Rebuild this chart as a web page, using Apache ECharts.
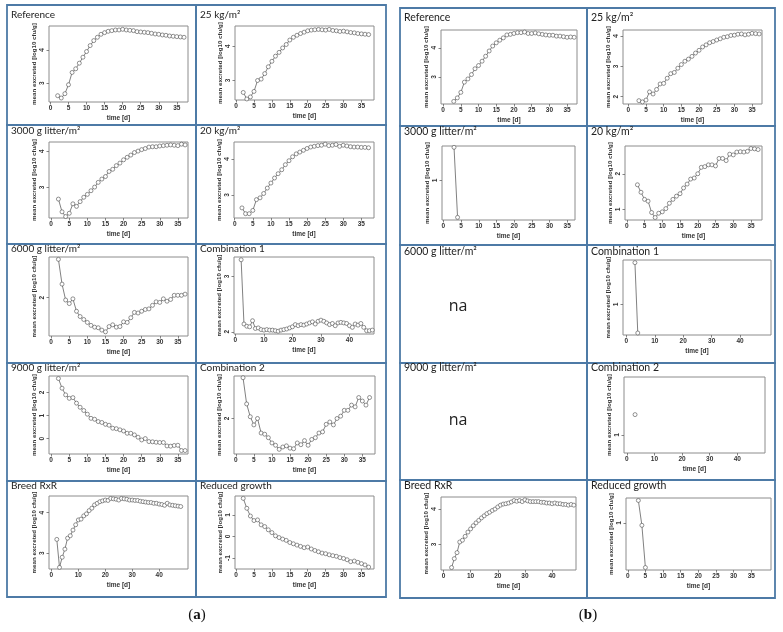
<!DOCTYPE html>
<html><head><meta charset="utf-8">
<script src="https://cdn.jsdelivr.net/npm/echarts@6/dist/echarts.min.js"></script>
<style>html,body{margin:0;padding:0;background:#fff}#c{width:783px;height:632px}</style>
</head><body><div id="c"></div><script>
// ---------- data ----------
const days2to37 = [2,3,4,5,6,7,8,9,10,11,12,13,14,15,16,17,18,19,20,21,22,23,24,25,26,27,28,29,30,31,32,33,34,35,36,37];
const days2to48 = [2,3,4,5,6,7,8,9,10,11,12,13,14,15,16,17,18,19,20,21,22,23,24,25,26,27,28,29,30,31,32,33,34,35,36,37,38,39,40,41,42,43,44,45,46,47,48];
const days3to37 = [3,4,5,6,7,8,9,10,11,12,13,14,15,16,17,18,19,20,21,22,23,24,25,26,27,28,29,30,31,32,33,34,35,36,37];
const days3to48 = [3,4,5,6,7,8,9,10,11,12,13,14,15,16,17,18,19,20,21,22,23,24,25,26,27,28,29,30,31,32,33,34,35,36,37,38,39,40,41,42,43,44,45,46,47,48];
const days3to4 = [3,4];
const days3 = [3];
const days3to5 = [3,4,5];

const referenceA = [2.62,2.55,2.68,2.95,3.32,3.43,3.60,3.78,3.95,4.13,4.28,4.38,4.47,4.52,4.56,4.58,4.60,4.60,4.62,4.60,4.59,4.58,4.55,4.54,4.53,4.52,4.50,4.48,4.47,4.45,4.44,4.42,4.41,4.40,4.39,4.38];
const kg25A = [2.65,2.46,2.52,2.68,3.00,3.04,3.20,3.40,3.56,3.71,3.82,3.95,4.05,4.18,4.26,4.32,4.37,4.41,4.45,4.47,4.48,4.49,4.48,4.47,4.49,4.46,4.45,4.43,4.44,4.42,4.40,4.39,4.37,4.36,4.35,4.34];
const litter3000A = [2.68,2.33,2.20,2.29,2.55,2.48,2.61,2.73,2.81,2.91,3.01,3.14,3.23,3.30,3.44,3.50,3.60,3.67,3.76,3.83,3.89,3.96,4.00,4.04,4.07,4.11,4.12,4.12,4.14,4.15,4.16,4.17,4.16,4.15,4.19,4.17];
const kg20A = [2.64,2.48,2.48,2.57,2.87,2.92,3.04,3.19,3.33,3.47,3.59,3.70,3.84,3.95,4.06,4.14,4.19,4.24,4.29,4.33,4.35,4.37,4.38,4.41,4.37,4.38,4.40,4.35,4.38,4.36,4.34,4.33,4.33,4.32,4.32,4.31];
const litter6000A = [2.65,2.23,1.96,1.90,1.98,1.77,1.68,1.63,1.58,1.53,1.50,1.49,1.45,1.42,1.51,1.54,1.50,1.51,1.59,1.58,1.66,1.75,1.74,1.77,1.80,1.81,1.87,1.93,1.92,1.98,1.94,1.97,2.04,2.04,2.04,2.06];
const combination1A = [3.30,2.14,2.10,2.09,2.20,2.06,2.07,2.04,2.03,2.04,2.03,2.03,2.02,2.01,2.03,2.04,2.05,2.07,2.09,2.13,2.11,2.13,2.12,2.14,2.16,2.18,2.14,2.19,2.21,2.19,2.16,2.13,2.15,2.11,2.16,2.17,2.16,2.15,2.11,2.08,2.14,2.12,2.15,2.08,2.02,2.02,2.03];
const litter9000A = [2.61,2.19,1.90,1.75,1.78,1.54,1.36,1.22,1.06,0.88,0.84,0.74,0.70,0.62,0.58,0.45,0.43,0.38,0.33,0.23,0.23,0.16,0.06,-0.06,0.00,-0.13,-0.14,-0.16,-0.17,-0.17,-0.32,-0.33,-0.30,-0.29,-0.52,-0.52];
const combination2A = [2.70,2.25,2.03,1.89,2.00,1.75,1.73,1.67,1.58,1.54,1.47,1.51,1.53,1.49,1.48,1.58,1.55,1.62,1.54,1.64,1.67,1.75,1.77,1.90,1.94,1.89,2.00,2.04,2.14,2.14,2.23,2.20,2.36,2.30,2.23,2.36];
const breedA = [3.34,2.65,2.90,3.10,3.37,3.43,3.57,3.70,3.82,3.84,3.92,3.97,4.05,4.11,4.19,4.23,4.27,4.29,4.31,4.30,4.35,4.34,4.33,4.31,4.35,4.34,4.33,4.31,4.31,4.30,4.30,4.28,4.27,4.26,4.25,4.25,4.23,4.23,4.21,4.20,4.18,4.23,4.19,4.18,4.17,4.16,4.15];
const reducedA = [1.77,1.31,0.95,0.74,0.77,0.54,0.46,0.31,0.18,0.03,-0.05,-0.12,-0.18,-0.28,-0.34,-0.40,-0.46,-0.52,-0.49,-0.58,-0.65,-0.71,-0.77,-0.80,-0.85,-0.89,-0.92,-0.98,-1.02,-1.08,-1.17,-1.14,-1.20,-1.26,-1.32,-1.42];

const referenceB = [2.16,2.28,2.47,2.82,2.93,3.08,3.28,3.39,3.54,3.71,3.89,4.06,4.17,4.26,4.34,4.44,4.46,4.49,4.52,4.52,4.54,4.49,4.49,4.51,4.48,4.46,4.44,4.43,4.43,4.40,4.40,4.38,4.36,4.37,4.36];
const kg25B = [1.87,1.83,1.89,2.16,2.09,2.24,2.42,2.44,2.61,2.76,2.80,2.94,3.06,3.17,3.24,3.33,3.44,3.53,3.64,3.71,3.78,3.82,3.87,3.91,3.96,3.98,4.02,4.03,4.06,4.07,4.04,4.06,4.09,4.08,4.07];
const litter3000B = [1.50,0.44];
const kg20B = [1.69,1.48,1.28,1.23,0.91,0.77,0.89,0.93,1.02,1.17,1.28,1.37,1.44,1.60,1.71,1.85,1.88,2.00,2.18,2.20,2.25,2.25,2.22,2.43,2.43,2.37,2.55,2.53,2.61,2.62,2.61,2.63,2.71,2.70,2.68];
const combination1B = [1.63,0.57];
const combination2B = [1.27];
const breedB = [2.35,2.60,2.77,3.07,3.12,3.23,3.35,3.44,3.53,3.61,3.68,3.75,3.81,3.87,3.91,3.96,4.00,4.06,4.11,4.14,4.15,4.17,4.20,4.24,4.22,4.24,4.21,4.26,4.23,4.21,4.21,4.21,4.21,4.19,4.19,4.17,4.17,4.15,4.17,4.15,4.15,4.13,4.13,4.11,4.13,4.11];
const reducedB = [1.45,0.95,0.10];

const ticks5 = [0,5,10,15,20,25,30,35];
const ticks10 = [0,10,20,30,40];

const titlesA = ['Reference','25 kg/m²','3000 g litter/m²','20 kg/m²','6000 g litter/m²','Combination 1','9000 g litter/m²','Combination 2','Breed RxR','Reduced growth'];
const titlesB = ['Reference','25 kg/m²','3000 g litter/m²','20 kg/m²','6000 g litter/m²','Combination 1','9000 g litter/m²','Combination 2','Breed RxR','Reduced growth'];
const yLabel = 'mean excreted [log10 cfu/g]';
const xLabel = 'time [d]';
const naText = 'na';

// ---------- layout ----------
const panels = [
  {d:days2to37, v:referenceA,   box:[49,26,188,102],  x:[-0.4,38.1], y:[2.43,4.72], xt:ticks5,  yt:[3,4]},
  {d:days2to37, v:kg25A,        box:[235,26,374,100], x:[-0.3,38.5], y:[2.43,4.59], xt:ticks5,  yt:[3,4]},
  {d:days2to37, v:litter3000A,  box:[49,142,188,218], x:[-0.6,37.8], y:[2.16,4.25], xt:ticks5,  yt:[3,4]},
  {d:days2to37, v:kg20A,        box:[234,142,374,218],x:[-0.2,38.5], y:[2.36,4.47], xt:ticks5,  yt:[3,4]},
  {d:days2to37, v:litter6000A,  box:[49,257,188,336], x:[-0.6,37.8], y:[1.35,2.69], xt:ticks5,  yt:[2]},
  {d:days2to48, v:combination1A,box:[234,257,374,334],x:[-0.5,48.6], y:[1.96,3.35], xt:ticks10, yt:[2,3]},
  {d:days2to37, v:litter9000A,  box:[49,376,188,454], x:[-0.6,37.8], y:[-0.67,2.72],xt:ticks5,  yt:[0,1,2]},
  {d:days2to37, v:combination2A,box:[234,376,375,454],x:[-0.5,38.5], y:[1.39,2.73], xt:ticks5,  yt:[2]},
  {d:days2to48, v:breedA,       box:[49,496,188,569], x:[-0.9,50.7], y:[2.61,4.41], xt:ticks10, yt:[3,4]},
  {d:days2to37, v:reducedA,     box:[235,496,374,569],x:[-0.3,38.5], y:[-1.51,1.88],xt:ticks5,  yt:[-1,0,1]},
  {d:days3to37, v:referenceB,   box:[441,30,577,104], x:[-0.6,37.8], y:[2.07,4.61], xt:ticks5,  yt:[3,4]},
  {d:days3to37, v:kg25B,        box:[623,30,762,104], x:[-1.5,37.8], y:[1.76,4.20], xt:ticks5,  yt:[2,3,4]},
  {d:days3to4,  v:litter3000B,  box:[442,146,575,220],x:[-0.4,37.2], y:[0.40,1.52], xt:ticks5,  yt:[1]},
  {d:days3to37, v:kg20B,        box:[625,146,762,220],x:[-0.5,38.1], y:[0.70,2.78], xt:ticks5,  yt:[1,2]},
  {d:days3to4,  v:combination1B,box:[623,260,771,335],x:[-1.2,50.9], y:[0.54,1.67], xt:ticks10, yt:[1]},
  {d:days3,     v:combination2B,box:[624,377,765,453],x:[-1.0,50.0], y:[0.76,1.77], xt:ticks10, yt:[1]},
  {d:days3to48, v:breedB,       box:[441,497,576,570],x:[-0.9,48.8], y:[2.28,4.34], xt:ticks10, yt:[3,4]},
  {d:days3to5,  v:reducedB,     box:[626,498,771,570],x:[-0.5,40.6], y:[0.05,1.50], xt:ticks5,  yt:[1]}
];

const colsA = [[7,196],[196,386]], rowsA = [5,125,244,363,481,597], titleDyA = [10,6,5,5,5];
const colsB = [[400,587],[587,775]], rowsB = [8,126,245,363,480,598], titleDyB = [10,6,7,5,6];

const tickFont = {fontSize:6.5, fontWeight:'bold', color:'#333', fontFamily:'Liberation Sans'};
const grids=[], xAxes=[], yAxes=[], series=[];
panels.forEach((p,i)=>{
  const [l,t,r,b]=p.box;
  grids.push({left:l, top:t, width:r-l, height:b-t, show:true, borderColor:'#8c8c8c', borderWidth:1, backgroundColor:'transparent'});
  xAxes.push({type:'value', gridIndex:i, min:p.x[0], max:p.x[1],
    axisLine:{show:false, onZero:false}, splitLine:{show:false},
    axisTick:{show:true, inside:false, length:2.5, customValues:p.xt, lineStyle:{color:'#666', width:0.8}},
    axisLabel:Object.assign({customValues:p.xt, margin:3, showMinLabel:true, showMaxLabel:true}, tickFont),
    name:xLabel, nameLocation:'middle', nameGap:13, nameTextStyle:Object.assign({}, tickFont)});
  yAxes.push({type:'value', gridIndex:i, min:p.y[0], max:p.y[1],
    axisLine:{show:false, onZero:false}, splitLine:{show:false},
    axisTick:{show:true, inside:false, length:2.5, customValues:p.yt, lineStyle:{color:'#666', width:0.8}},
    axisLabel:Object.assign({customValues:p.yt, margin:3, rotate:90, showMinLabel:true, showMaxLabel:true}, tickFont),
    name:yLabel, nameLocation:'middle', nameGap:12, nameRotate:90, nameTextStyle:Object.assign({}, tickFont, {fontSize:6.2})});
  series.push({type:'line', xAxisIndex:i, yAxisIndex:i, data:p.d.map((d,k)=>[d,p.v[k]]),
    symbol:'circle', symbolSize:4, showAllSymbol:true, silent:true,
    itemStyle:{color:'#ffffff', borderColor:'#4a4a4a', borderWidth:0.6},
    lineStyle:{color:'#4a4a4a', width:0.7}});
});

const graphics=[];
const borderColor='#4d7aa6';
function cells(cols, rows, titles, fs, dys){
  for(let r=0;r<5;r++){
    for(let c=0;c<2;c++){
      const x0=cols[c][0], x1=cols[c][1], y0=rows[r], y1=rows[r+1];
      graphics.push({type:'rect', shape:{x:x0,y:y0,width:x1-x0,height:y1-y0}, style:{fill:null, stroke:borderColor, lineWidth:1.8}, silent:true});
      graphics.push({type:'text', x:x0+4, y:y0+dys[r], style:{text:titles[r*2+c], fontSize:fs, fontFamily:'Lato', fill:'#222', verticalAlign:'middle'}, silent:true});
    }
  }
}
cells(colsA, rowsA, titlesA, 10, titleDyA);
cells(colsB, rowsB, titlesB, 10.5, titleDyB);
graphics.push({type:'text', x:458, y:306, style:{text:naText, fontSize:16, fontFamily:'Open Sans', fill:'#222', align:'center', verticalAlign:'middle'}});
graphics.push({type:'text', x:458, y:420, style:{text:naText, fontSize:16, fontFamily:'Open Sans', fill:'#222', align:'center', verticalAlign:'middle'}});
graphics.push({type:'text', x:197, y:615, style:{rich:{p:{fontSize:15, fontFamily:'Liberation Serif', fill:'#111'}, b:{fontSize:15, fontFamily:'Liberation Serif', fontWeight:'bold', fill:'#111'}}, text:'{p|(}{b|a}{p|)}', align:'center', verticalAlign:'middle'}});
graphics.push({type:'text', x:588, y:615, style:{rich:{p:{fontSize:15, fontFamily:'Liberation Serif', fill:'#111'}, b:{fontSize:15, fontFamily:'Liberation Serif', fontWeight:'bold', fill:'#111'}}, text:'{p|(}{b|b}{p|)}', align:'center', verticalAlign:'middle'}});

const chart = echarts.init(document.getElementById('c'), null, {renderer:'canvas'});
chart.setOption({backgroundColor:'#fff', animation:false, grid:grids, xAxis:xAxes, yAxis:yAxes, series:series, graphic:graphics});
</script></body></html>
